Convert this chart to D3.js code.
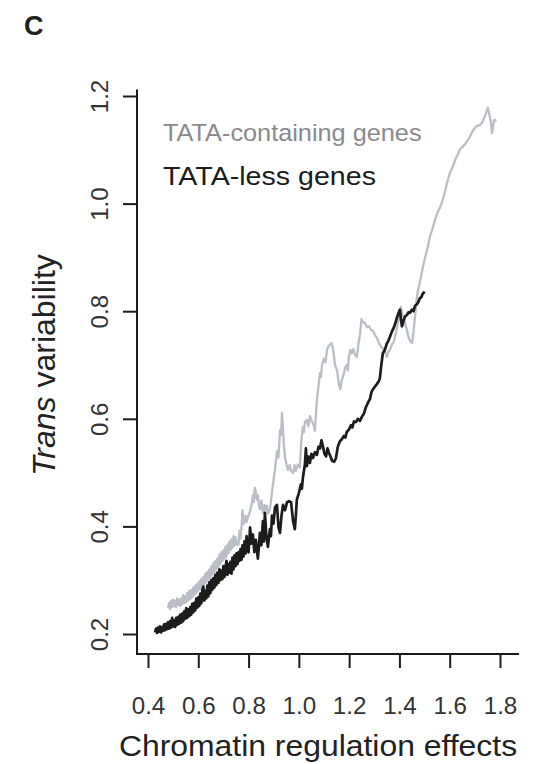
<!DOCTYPE html>
<html>
<head>
<meta charset="utf-8">
<script src="https://cdn.jsdelivr.net/npm/d3@7"></script>
<style>
  body { margin: 0; background: #fff; }
  text { font-family: "Liberation Sans", Arial, Helvetica, sans-serif; }
</style>
</head>
<body>
<svg id="chart" width="547" height="764"></svg>
<script>
// tick values
const xTicks = [0.4, 0.6, 0.8, 1.0, 1.2, 1.4, 1.6, 1.8];
const yTicks = [0.2, 0.4, 0.6, 0.8, 1.0, 1.2];
const legendLabels = ['TATA-containing genes', 'TATA-less genes'];

// [chromatin regulation effect, trans variability]
const tataContaining = [
  [0.480,0.248],[0.484,0.258],[0.488,0.246],[0.492,0.262],[0.496,0.250],[0.500,0.264],[0.504,0.252],
  [0.508,0.262],[0.512,0.250],[0.516,0.266],[0.520,0.254],[0.524,0.264],[0.528,0.252],[0.532,0.266],
  [0.536,0.255],[0.540,0.272],[0.544,0.258],[0.548,0.270],[0.552,0.259],[0.556,0.276],[0.560,0.262],
  [0.564,0.280],[0.568,0.265],[0.572,0.282],[0.576,0.268],[0.580,0.286],[0.584,0.272],[0.588,0.290],
  [0.592,0.276],[0.596,0.294],[0.600,0.280],[0.604,0.298],[0.608,0.284],[0.612,0.302],[0.616,0.288],
  [0.620,0.306],[0.624,0.292],[0.628,0.312],[0.632,0.296],[0.636,0.316],[0.640,0.300],[0.644,0.320],
  [0.648,0.304],[0.652,0.326],[0.656,0.310],[0.660,0.332],[0.664,0.314],[0.668,0.336],[0.672,0.320],
  [0.676,0.340],[0.680,0.324],[0.684,0.348],[0.688,0.330],[0.692,0.352],[0.696,0.336],[0.700,0.356],
  [0.704,0.340],[0.708,0.362],[0.712,0.344],[0.716,0.366],[0.720,0.350],[0.724,0.372],[0.728,0.356],
  [0.732,0.376],[0.736,0.360],[0.740,0.382],[0.744,0.364],[0.748,0.380],[0.752,0.366],[0.756,0.372],
  [0.760,0.366],[0.764,0.392],[0.768,0.378],[0.772,0.400],[0.776,0.430],[0.780,0.404],[0.784,0.412],
  [0.788,0.420],[0.792,0.408],[0.798,0.418],[0.806,0.428],[0.812,0.440],[0.817,0.458],[0.821,0.445],
  [0.825,0.472],[0.829,0.462],[0.833,0.450],[0.837,0.458],[0.841,0.438],[0.845,0.432],[0.851,0.448],
  [0.857,0.425],[0.863,0.440],[0.869,0.430],[0.873,0.438],[0.877,0.424],[0.885,0.432],[0.891,0.455],
  [0.897,0.478],[0.905,0.505],[0.913,0.540],[0.919,0.528],[0.925,0.579],[0.929,0.570],[0.933,0.611],
  [0.937,0.580],[0.941,0.548],[0.945,0.529],[0.951,0.515],[0.957,0.505],[0.963,0.514],[0.969,0.503],
  [0.977,0.499],[0.983,0.514],[0.988,0.503],[0.996,0.515],[1.004,0.510],[1.010,0.560],[1.016,0.585],
  [1.020,0.575],[1.024,0.594],[1.032,0.598],[1.038,0.586],[1.044,0.605],[1.052,0.595],[1.058,0.589],
  [1.064,0.578],[1.068,0.610],[1.072,0.635],[1.078,0.660],[1.084,0.685],[1.088,0.678],[1.092,0.700],
  [1.100,0.712],[1.106,0.705],[1.112,0.728],[1.118,0.735],[1.124,0.738],[1.130,0.741],[1.136,0.730],
  [1.144,0.700],[1.152,0.690],[1.159,0.665],[1.165,0.655],[1.171,0.672],[1.179,0.684],[1.185,0.696],
  [1.191,0.700],[1.195,0.690],[1.199,0.715],[1.205,0.728],[1.211,0.722],[1.217,0.730],[1.223,0.719],
  [1.231,0.715],[1.237,0.740],[1.243,0.756],[1.249,0.785],[1.255,0.780],[1.263,0.778],[1.271,0.770],
  [1.279,0.772],[1.287,0.765],[1.295,0.764],[1.303,0.755],[1.311,0.750],[1.318,0.741],[1.326,0.735],
  [1.338,0.728],[1.344,0.722],[1.350,0.715],[1.356,0.725],[1.362,0.728],[1.370,0.738],[1.378,0.743],
  [1.386,0.760],[1.394,0.778],[1.402,0.796],[1.406,0.808],[1.412,0.792],[1.418,0.788],[1.424,0.775],
  [1.430,0.765],[1.436,0.752],[1.442,0.745],[1.450,0.741],[1.456,0.760],[1.462,0.790],[1.468,0.820],
  [1.474,0.840],[1.481,0.853],[1.489,0.872],[1.497,0.890],[1.505,0.905],[1.513,0.920],[1.521,0.938],
  [1.529,0.950],[1.537,0.962],[1.545,0.975],[1.553,0.985],[1.561,0.992],[1.569,1.002],[1.577,1.015],
  [1.585,1.030],[1.593,1.045],[1.601,1.057],[1.609,1.065],[1.617,1.075],[1.625,1.085],[1.633,1.092],
  [1.640,1.100],[1.648,1.104],[1.656,1.108],[1.664,1.112],[1.672,1.118],[1.680,1.124],[1.688,1.132],
  [1.696,1.138],[1.704,1.143],[1.712,1.145],[1.720,1.146],[1.728,1.150],[1.736,1.158],[1.742,1.165],
  [1.748,1.174],[1.752,1.178],[1.756,1.169],[1.760,1.161],[1.764,1.150],[1.768,1.131],[1.772,1.140],
  [1.776,1.155],[1.780,1.156],[1.784,1.152]
];

const tataLess = [
  [0.428,0.203],[0.432,0.210],[0.436,0.202],[0.440,0.212],[0.444,0.204],[0.448,0.214],[0.452,0.203],
  [0.456,0.213],[0.460,0.206],[0.464,0.218],[0.468,0.207],[0.472,0.219],[0.476,0.209],[0.480,0.222],
  [0.484,0.210],[0.488,0.224],[0.492,0.212],[0.496,0.230],[0.500,0.214],[0.504,0.226],[0.508,0.213],
  [0.512,0.230],[0.516,0.217],[0.520,0.232],[0.524,0.219],[0.528,0.236],[0.532,0.221],[0.536,0.238],
  [0.540,0.224],[0.544,0.242],[0.548,0.228],[0.552,0.248],[0.556,0.230],[0.560,0.246],[0.564,0.233],
  [0.568,0.250],[0.572,0.236],[0.576,0.256],[0.580,0.240],[0.584,0.258],[0.588,0.244],[0.592,0.266],
  [0.596,0.249],[0.600,0.268],[0.604,0.252],[0.608,0.275],[0.612,0.257],[0.616,0.282],[0.620,0.288],
  [0.624,0.262],[0.628,0.280],[0.632,0.266],[0.636,0.290],[0.640,0.270],[0.644,0.296],[0.648,0.276],
  [0.652,0.300],[0.656,0.282],[0.660,0.304],[0.664,0.286],[0.668,0.310],[0.672,0.291],[0.676,0.314],
  [0.680,0.295],[0.684,0.320],[0.688,0.300],[0.692,0.318],[0.696,0.302],[0.700,0.326],[0.704,0.306],
  [0.708,0.322],[0.712,0.336],[0.716,0.310],[0.720,0.330],[0.724,0.314],[0.728,0.334],[0.732,0.312],
  [0.736,0.342],[0.740,0.320],[0.744,0.346],[0.748,0.326],[0.752,0.350],[0.756,0.330],[0.760,0.352],
  [0.764,0.336],[0.768,0.358],[0.772,0.338],[0.776,0.365],[0.780,0.344],[0.784,0.372],[0.788,0.350],
  [0.792,0.382],[0.796,0.356],[0.800,0.352],[0.806,0.398],[0.811,0.368],[0.817,0.385],[0.823,0.352],
  [0.829,0.375],[0.837,0.340],[0.841,0.362],[0.845,0.388],[0.851,0.365],[0.857,0.410],[0.861,0.372],
  [0.865,0.425],[0.871,0.380],[0.877,0.362],[0.881,0.380],[0.885,0.395],[0.889,0.382],[0.893,0.420],
  [0.899,0.405],[0.905,0.435],[0.913,0.440],[0.919,0.398],[0.925,0.388],[0.931,0.420],[0.937,0.440],
  [0.945,0.430],[0.953,0.445],[0.961,0.447],[0.969,0.445],[0.977,0.410],[0.984,0.395],[0.988,0.420],
  [0.992,0.450],[1.000,0.462],[1.008,0.478],[1.012,0.470],[1.016,0.490],[1.024,0.515],[1.028,0.545],
  [1.032,0.512],[1.038,0.530],[1.044,0.518],[1.050,0.535],[1.056,0.527],[1.064,0.538],[1.072,0.533],
  [1.078,0.548],[1.084,0.545],[1.090,0.560],[1.096,0.548],[1.102,0.535],[1.108,0.530],[1.114,0.545],
  [1.120,0.536],[1.126,0.530],[1.132,0.522],[1.140,0.520],[1.147,0.526],[1.155,0.548],[1.163,0.558],
  [1.171,0.562],[1.179,0.568],[1.185,0.565],[1.191,0.576],[1.199,0.580],[1.207,0.588],[1.213,0.584],
  [1.219,0.595],[1.227,0.594],[1.235,0.600],[1.243,0.596],[1.251,0.604],[1.259,0.610],[1.267,0.622],
  [1.275,0.630],[1.283,0.637],[1.289,0.650],[1.295,0.655],[1.303,0.660],[1.311,0.665],[1.318,0.670],
  [1.322,0.675],[1.328,0.700],[1.334,0.722],[1.342,0.728],[1.350,0.740],[1.356,0.745],[1.362,0.752],
  [1.370,0.762],[1.378,0.770],[1.384,0.778],[1.390,0.788],[1.396,0.796],[1.402,0.803],[1.406,0.785],
  [1.410,0.772],[1.416,0.782],[1.422,0.790],[1.430,0.793],[1.436,0.798],[1.442,0.797],[1.450,0.803],
  [1.456,0.800],[1.462,0.810],[1.470,0.813],[1.476,0.818],[1.481,0.824],[1.487,0.826],[1.493,0.833],
  [1.501,0.836]
];

const svg = d3.select('#chart');
const INK = '#1c1c1c';
const GREY = '#bbbdc7';

const xScale = d3.scaleLinear().domain([0.4, 1.8]).range([148, 500]);
const yScale = d3.scaleLinear().domain([0.2, 1.2]).range([634, 96]);

const boxLeft = 137, boxBottom = 654;

// L-shaped frame (like R's bty="l")
svg.append('path')
  .attr('d', `M${boxLeft},${yScale(1.212)}V${boxBottom}H${xScale(1.876)}`)
  .attr('fill', 'none')
  .attr('stroke', INK)
  .attr('stroke-width', 2);

// y axis
let yAxis = svg.append('g')
  .attr('transform', `translate(${boxLeft},0)`)
  .call(d3.axisLeft(yScale).tickValues(yTicks).tickSize(14).tickFormat(d3.format('.1f')));
yAxis.select('.domain').remove();
yAxis.selectAll('.tick line').attr('stroke', INK).attr('stroke-width', 2);
yAxis.selectAll('.tick text')
  .attr('x', null).attr('dy', null)
  .attr('transform', 'translate(-29,0) rotate(-90)')
  .attr('text-anchor', 'middle')
  .attr('fill', '#333')
  .style('font-size', '24px');

// x axis
let xAxis = svg.append('g')
  .attr('transform', `translate(0,${boxBottom})`)
  .call(d3.axisBottom(xScale).tickValues(xTicks).tickSize(14).tickFormat(d3.format('.1f')));
xAxis.select('.domain').remove();
xAxis.selectAll('.tick line').attr('stroke', INK).attr('stroke-width', 2);
xAxis.selectAll('.tick text')
  .attr('y', null).attr('dy', null)
  .attr('transform', 'translate(0,60) scale(1.05,1)')
  .attr('text-anchor', 'middle')
  .attr('fill', '#333')
  .style('font-size', '23px');

// lines
let line = d3.line()
  .x(d => xScale(d[0]))
  .y(d => yScale(d[1]));

svg.append('path')
  .datum(tataContaining)
  .attr('d', line)
  .attr('fill', 'none')
  .attr('stroke', GREY)
  .attr('stroke-width', 2.3)
  .attr('stroke-linejoin', 'round');

svg.append('path')
  .datum(tataLess)
  .attr('d', line)
  .attr('fill', 'none')
  .attr('stroke', INK)
  .attr('stroke-width', 2.7)
  .attr('stroke-linejoin', 'round');

// legend
svg.append('text')
  .attr('transform', 'translate(163,141) scale(1.1,1)')
  .attr('fill', '#8a8a8e')
  .style('font-size', '23px')
  .text(legendLabels[0]);
svg.append('text')
  .attr('transform', 'translate(163,185) scale(1.1,1)')
  .attr('fill', INK)
  .style('font-size', '26px')
  .text(legendLabels[1]);

// axis titles
svg.append('text')
  .attr('transform', `translate(318,756) scale(1.1,1)`)
  .attr('text-anchor', 'middle')
  .attr('fill', '#222')
  .style('font-size', '29px')
  .text('Chromatin regulation effects');

let yTitle = svg.append('text')
  .attr('transform', `translate(55,${yScale(0.7)}) rotate(-90)`)
  .attr('text-anchor', 'middle')
  .attr('fill', '#222')
  .style('font-size', '32px');
yTitle.append('tspan').style('font-style', 'italic').text('Trans');
yTitle.append('tspan').text(' variability');

// panel letter
svg.append('text')
  .attr('x', 24).attr('y', 35)
  .attr('fill', '#222')
  .style('font-size', '27px')
  .style('font-weight', 'bold')
  .text('C');
</script>
</body>
</html>
